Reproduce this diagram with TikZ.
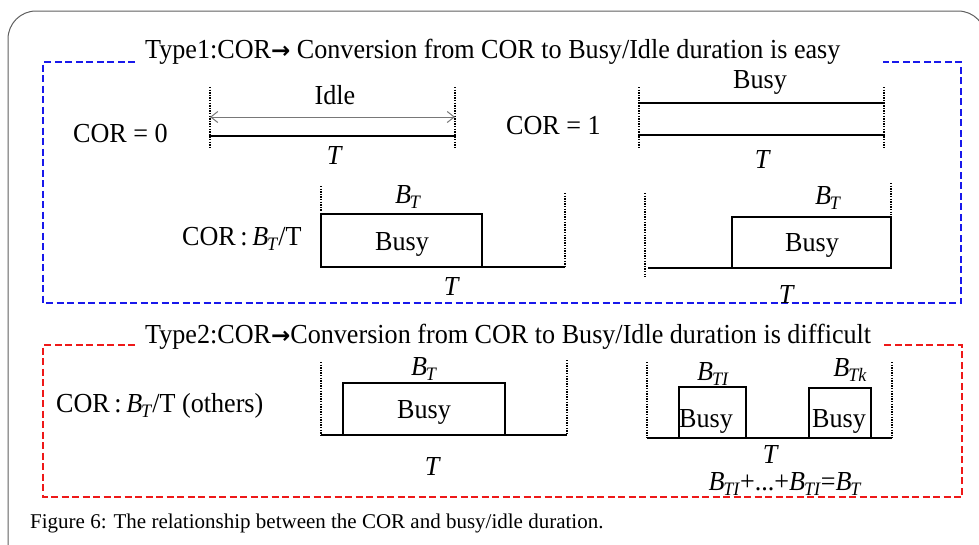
\documentclass[tikz,border=0pt]{standalone}
\usepackage{fontspec}
\setmainfont{Liberation Serif}
\newfontfamily\diagfont[FakeStretch=0.95]{Liberation Serif}
\newfontfamily\arrowfont{DejaVu Sans}
\usetikzlibrary{arrows.meta}
\definecolor{boxblue}{RGB}{25,25,235}
\definecolor{boxred}{RGB}{238,25,25}
\definecolor{framegray}{RGB}{95,95,95}
\definecolor{arrowgray}{RGB}{120,120,120}
% italic B with a lowered italic subscript
\newcommand\Bsub[1]{\textit{B}\kern-0.04em\raisebox{-0.4ex}{\fontsize{19}{19}\selectfont\textit{#1}}}
\newcommand\boldarrow{{\arrowfont\bfseries\fontsize{23}{23}\selectfont →}}

\begin{document}
\begin{tikzpicture}[x=1pt,y=-1pt,
  lbl/.style={anchor=base,inner sep=0pt,font=\diagfont\fontsize{27.5}{27.5}\selectfont},
  lblw/.style={lbl,anchor=base west},
  figcap/.style={anchor=base west,inner sep=0pt,font=\fontsize{21}{21}\selectfont},
  thick line/.style={line width=2.6pt,line cap=rect},
  pulse/.style={line width=2.6pt,line join=miter},
  dotline/.style={line width=1.7pt,dash pattern=on 1.3pt off 1.3pt},
  bluebox/.style={boxblue,line width=2.6pt,dash pattern=on 7pt off 3.5pt},
  redbox/.style={boxred,line width=2.6pt,dash pattern=on 7pt off 3.5pt},
  framestyle/.style={framegray,line width=1pt,rounded corners=28pt}]
\useasboundingbox (0,0) rectangle (979,544);

% outer frame
\draw[framestyle] (986,570) -- (986,11) -- (8,11) -- (8,570);

% ---------- Type 1 group ----------
\draw[bluebox] (135,62) -- (43,62) -- (43,303) -- (961,303) -- (961,62) -- (883,62);
\node[lblw] (t1) at (145,58) {Type1:COR\boldarrow\ Conversion from COR to Busy/Idle duration is easy};

% COR = 0
\node[lblw] (c0) at (73,142) {COR = 0};
\coordinate (a1) at (210,87);  \coordinate (a2) at (210,148);
\coordinate (a3) at (455,87);  \coordinate (a4) at (455,148);
\draw[dotline] (a1) -- (a2);
\draw[dotline] (a3) -- (a4);
\coordinate (ia) at (210,117); \coordinate (ib) at (455,117);
\draw[arrowgray,line width=1pt,{Straight Barb[length=7pt,width=11pt]}-{Straight Barb[length=7pt,width=11pt]}] (ia) -- (ib);
\coordinate (la) at (210,136); \coordinate (lb) at (455,136);
\draw[thick line] (la) -- (lb);
\node[lbl] (idle) at (335,104) {Idle};
\node[lbl] (tA) at (335,164) {\textit{T}};

% COR = 1
\node[lblw] (c1) at (506,134) {COR = 1};
\coordinate (b1) at (639,87);  \coordinate (b2) at (639,148);
\coordinate (b3) at (884,87);  \coordinate (b4) at (884,148);
\draw[dotline] (b1) -- (b2);
\draw[dotline] (b3) -- (b4);
\coordinate (bu1) at (639,103); \coordinate (bu2) at (884,103);
\coordinate (bd1) at (639,135); \coordinate (bd2) at (884,135);
\draw[thick line] (bu1) -- (bu2);
\draw[thick line] (bd1) -- (bd2);
\node[lbl] (busyB) at (760,88) {Busy};
\node[lbl] (tB) at (763,168) {\textit{T}};

% COR : B_T / T, busy period first
\node[lblw] (cc) at (182,245) {COR\,:\,\Bsub{T}/T};
\coordinate (c1t) at (321,186); \coordinate (c1b) at (321,211);
\draw[dotline] (c1t) -- (c1b);
\draw[pulse] (565,267) -- (482,267) -- (482,214) -- (321,214) -- (321,267) -- (482,267);
\coordinate (c2t) at (565,193); \coordinate (c2b) at (565,267);
\draw[dotline] (c2t) -- (c2b);
\node[lbl] (bC) at (408,203) {\Bsub{T}};
\node[lbl] (busyC) at (402,250) {Busy};
\node[lbl] (tC) at (452,295) {\textit{T}};

% busy period last
\coordinate (d1t) at (645,193); \coordinate (d1b) at (645,277);
\draw[dotline] (d1t) -- (d1b);
\draw[pulse] (648,268) -- (732,268) -- (732,217) -- (891,217) -- (891,268) -- (732,268);
\coordinate (d2t) at (891,183); \coordinate (d2b) at (891,215);
\draw[dotline] (d2t) -- (d2b);
\node[lbl] (bD) at (828,204) {\Bsub{T}};
\node[lbl] (busyD) at (812,251) {Busy};
\node[lbl] (tD) at (787,303) {\textit{T}};

% ---------- Type 2 group ----------
\draw[redbox] (135,345) -- (43,345) -- (43,497) -- (962,497) -- (962,345) -- (883,345);
\node[lblw] (t2) at (145,343) {Type2:COR\boldarrow Conversion from COR to Busy/Idle duration is difficult};

\node[lblw] (co) at (56,412) {COR\,:\,\Bsub{T}/T (others)};

% single busy period inside T
\coordinate (e1t) at (321,362); \coordinate (e1b) at (321,435);
\draw[dotline] (e1t) -- (e1b);
\draw[pulse] (321,435) -- (567,435);
\draw[pulse] (343,435) -- (343,383) -- (505,383) -- (505,435);
\coordinate (e2t) at (567,360); \coordinate (e2b) at (567,435);
\draw[dotline] (e2t) -- (e2b);
\node[lbl] (bE) at (424,375) {\Bsub{T}};
\node[lbl] (busyE) at (424,418) {Busy};
\node[lbl] (tE) at (433,475) {\textit{T}};

% several busy periods inside T
\coordinate (f1t) at (647,362); \coordinate (f1b) at (647,438);
\draw[dotline] (f1t) -- (f1b);
\draw[pulse] (647,438) -- (892,438);
\draw[pulse] (679,438) -- (679,387) -- (746,387) -- (746,438);
\draw[pulse] (809,438) -- (809,388) -- (871,388) -- (871,438);
\coordinate (f2t) at (892,362); \coordinate (f2b) at (892,438);
\draw[dotline] (f2t) -- (f2b);
\node[lbl] (bF1) at (713,380) {\Bsub{TI}};
\node[lbl] (bFk) at (850,376) {\Bsub{Tk}};
\node[lbl] (busyF1) at (706,427) {Busy};
\node[lbl] (busyF2) at (839,427) {Busy};
\node[lbl] (tF) at (771,463) {\textit{T}};
\node[lbl] (sum) at (785,490) {\Bsub{TI}+...+\Bsub{TI}=\Bsub{T}};

% caption
\node[figcap] (caption) at (30,528) {Figure 6: The relationship between the COR and busy/idle duration.};
\end{tikzpicture}
\end{document}
